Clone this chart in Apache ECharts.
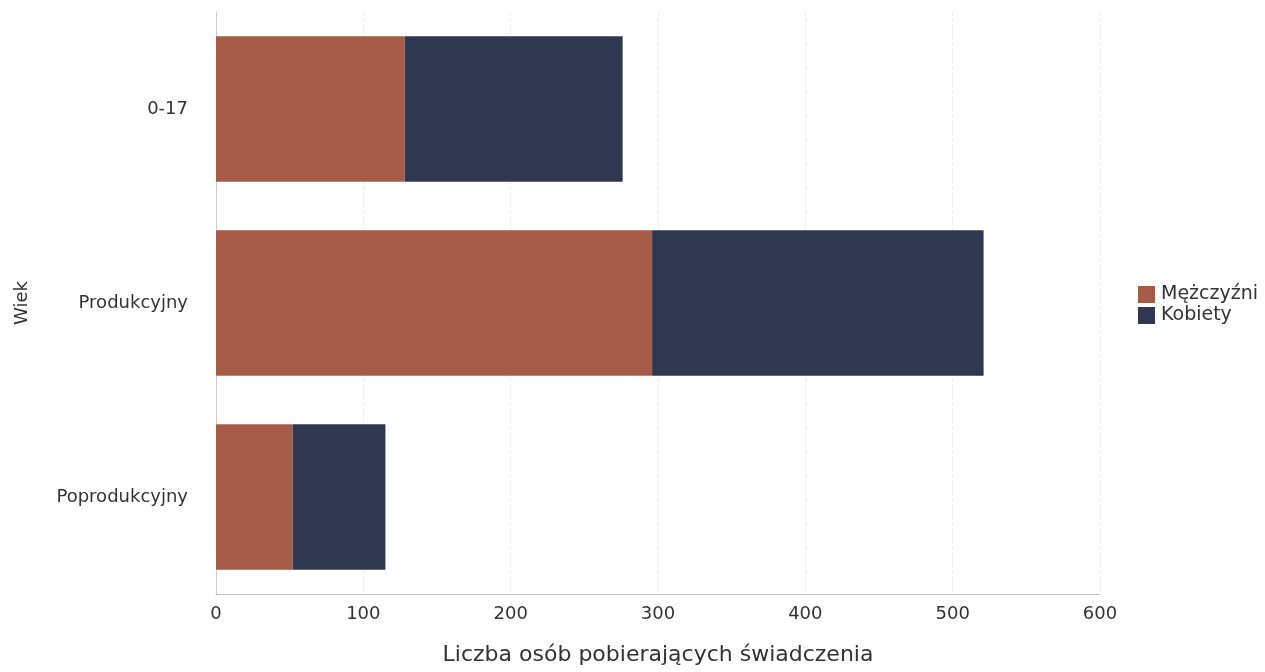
<!DOCTYPE html>
<html><head><meta charset="utf-8">
<script src="https://cdn.jsdelivr.net/npm/echarts@6/dist/echarts.min.js"></script>
<style>html,body{margin:0;padding:0;background:#fff}#c{width:1265px;height:672px}</style>
</head><body><div id="c"></div>
<script>
const categories = ['Poprodukcyjny', 'Produkcyjny', '0-17'];
const male = [52, 296, 128];
const female = [63, 225, 148];
const seriesNames = ['Mężczyźni', 'Kobiety'];
const xTicks = [0, 100, 200, 300, 400, 500, 600];

const chart = echarts.init(document.getElementById('c'));
const font = '"DejaVu Sans", sans-serif';
chart.setOption({
  animation: false,
  textStyle: {fontFamily: font},
  grid: {left: 216, right: 165, top: 12, bottom: 78, containLabel: false},
  legend: {
    orient: 'vertical', left: 1133, top: 280, itemWidth: 17, itemHeight: 17, itemGap: 2,
    icon: 'rect',
    textStyle: {fontSize: 19, color: '#333', fontFamily: font, padding: [0,0,0,1]},
    data: seriesNames
  },
  xAxis: {
    type: 'value', min: xTicks[0], max: xTicks[xTicks.length-1], interval: 100,
    name: 'Liczba osób pobierających świadczenia', nameLocation: 'middle', nameGap: 50,
    nameTextStyle: {fontSize: 22, color: '#333', fontFamily: font},
    axisLine: {show: true, lineStyle: {color: '#bbb'}},
    axisTick: {show: false},
    axisLabel: {fontSize: 18, color: '#333', margin: 11},
    splitLine: {show: true, lineStyle: {color: '#eee', type: 'dashed'}}
  },
  yAxis: {
    type: 'category', data: categories,
    name: 'Wiek', nameLocation: 'middle', nameGap: 185, nameRotate: 90,
    nameTextStyle: {fontSize: 18, color: '#333', fontFamily: font},
    axisLine: {show: true, lineStyle: {color: '#ccc'}},
    axisTick: {show: false},
    axisLabel: {fontSize: 18, color: '#333', margin: 28}
  },
  series: [
    {name: seriesNames[0], type: 'bar', stack: 't', data: male, barWidth: '75%', itemStyle: {color: '#a65b47'}},
    {name: seriesNames[1], type: 'bar', stack: 't', data: female, barWidth: '75%', itemStyle: {color: '#2f3850'}}
  ]
});
</script></body></html>
